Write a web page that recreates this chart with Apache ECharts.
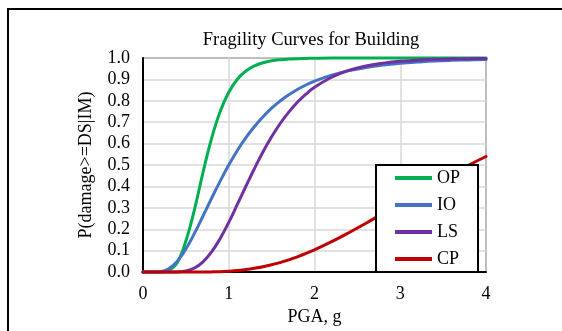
<!DOCTYPE html>
<html>
<head>
<meta charset="utf-8">
<script src="https://cdn.jsdelivr.net/npm/echarts@6/dist/echarts.min.js"></script>
<style>
  html, body { margin: 0; padding: 0; background: #fff; }
  #chart { width: 562px; height: 331px; }
</style>
</head>
<body>
<div id="chart"></div>
<script>
const pga = [0, 0.1, 0.2, 0.3, 0.4, 0.5, 0.6, 0.7, 0.8, 0.9, 1.0,
  1.1, 1.2, 1.3, 1.4, 1.5, 1.6, 1.7, 1.8, 1.9, 2.0,
  2.2, 2.4, 2.6, 2.8, 3.0, 3.2, 3.4, 3.6, 3.8, 4.0]

const op = [0, 0, 0.0005, 0.008, 0.045, 0.145, 0.292, 0.466, 0.625, 0.750, 0.840,
  0.901, 0.939, 0.963, 0.978, 0.987, 0.992, 0.995, 0.997, 0.998, 0.999,
  1, 1, 1, 1, 1, 1, 1, 1, 1, 1]

const io = [0, 0, 0.002, 0.016, 0.051, 0.108, 0.181, 0.262, 0.345, 0.425, 0.500,
  0.568, 0.628, 0.680, 0.726, 0.766, 0.799, 0.828, 0.853, 0.874, 0.892,
  0.920, 0.941, 0.956, 0.967, 0.975, 0.981, 0.986, 0.989, 0.991, 0.993]

const ls = [0, 0, 0, 0, 0.001, 0.005, 0.019, 0.048, 0.094, 0.157, 0.232,
  0.316, 0.401, 0.484, 0.562, 0.632, 0.694, 0.747, 0.793, 0.831, 0.863,
  0.910, 0.942, 0.963, 0.976, 0.985, 0.990, 0.994, 0.996, 0.997, 0.998]

const cp = [0, 0, 0, 0, 0, 0, 0.0001, 0.0005, 0.001, 0.002, 0.004,
  0.007, 0.012, 0.018, 0.025, 0.034, 0.045, 0.057, 0.071, 0.087, 0.104,
  0.142, 0.184, 0.228, 0.275, 0.321, 0.368, 0.414, 0.458, 0.500, 0.540]

const seriesNames = ['OP', 'IO', 'LS', 'CP']
const seriesColors = ['#00B050', '#4472C4', '#7030A0', '#C00000']

const font = "'Liberation Serif', 'Times New Roman', serif"

const chart = echarts.init(document.getElementById('chart'))

const makeSeries = (name, values, color) => ({
  name: name,
  type: 'line',
  data: pga.map((x, i) => [x, values[i]]),
  symbol: 'none',
  showSymbol: false,
  smooth: 0.4,
  clip: false,
  lineStyle: { color: color, width: 3, join: 'round', cap: 'round' },
  itemStyle: { color: color }
})

const option = {
  animation: false,
  backgroundColor: '#fff',
  title: {
    text: 'Fragility Curves for Building',
    left: 306,
    top: 26,
    textAlign: 'center',
    textStyle: { fontFamily: font, fontSize: 18.5, fontWeight: 'normal', color: '#000' }
  },
  graphic: [
    {
      type: 'rect',
      shape: { x: 8, y: 9, width: 620, height: 400 },
      style: { fill: 'none', stroke: '#000', lineWidth: 2 },
      silent: true
    }
  ],
  legend: {
    orient: 'vertical',
    left: 376,
    top: 165,
    padding: [4, 18, 4, 19],
    icon: 'rect',
    itemWidth: 37,
    itemHeight: 4,
    itemGap: 9,
    backgroundColor: '#fff',
    borderColor: '#000',
    borderWidth: 2,
    textStyle: { fontFamily: font, fontSize: 18, color: '#000' },
    data: seriesNames
  },
  grid: {
    left: 143,
    top: 58,
    width: 343,
    height: 215,
    show: true,
    borderColor: '#404040',
    borderWidth: 1.5
  },
  xAxis: {
    type: 'value',
    min: 0,
    max: 4,
    interval: 1,
    name: 'PGA, g',
    nameLocation: 'middle',
    nameGap: 27,
    nameTextStyle: { fontFamily: font, fontSize: 18, color: '#000' },
    axisLine: { show: true, onZero: false, lineStyle: { color: '#000', width: 2 } },
    axisTick: { show: false },
    axisLabel: { margin: 13, fontFamily: font, fontSize: 18, color: '#000' },
    splitLine: { show: true, lineStyle: { color: '#d9d9d9', width: 1.5 } }
  },
  yAxis: {
    type: 'value',
    min: 0,
    max: 1,
    interval: 0.1,
    name: 'P(damage>=DS|IM)',
    nameLocation: 'middle',
    nameGap: 48,
    nameTextStyle: { fontFamily: font, fontSize: 18, color: '#000' },
    axisLine: { show: true, lineStyle: { color: '#000', width: 2 } },
    axisTick: { show: false },
    axisLabel: {
      margin: 13,
      fontFamily: font,
      fontSize: 18,
      color: '#000',
      formatter: v => v.toFixed(1)
    },
    splitLine: { show: true, lineStyle: { color: '#d9d9d9', width: 1.5 } }
  },
  series: [
    makeSeries(seriesNames[0], op, seriesColors[0]),
    makeSeries(seriesNames[1], io, seriesColors[1]),
    makeSeries(seriesNames[2], ls, seriesColors[2]),
    makeSeries(seriesNames[3], cp, seriesColors[3])
  ]
}

chart.setOption(option)
</script>
</body>
</html>
